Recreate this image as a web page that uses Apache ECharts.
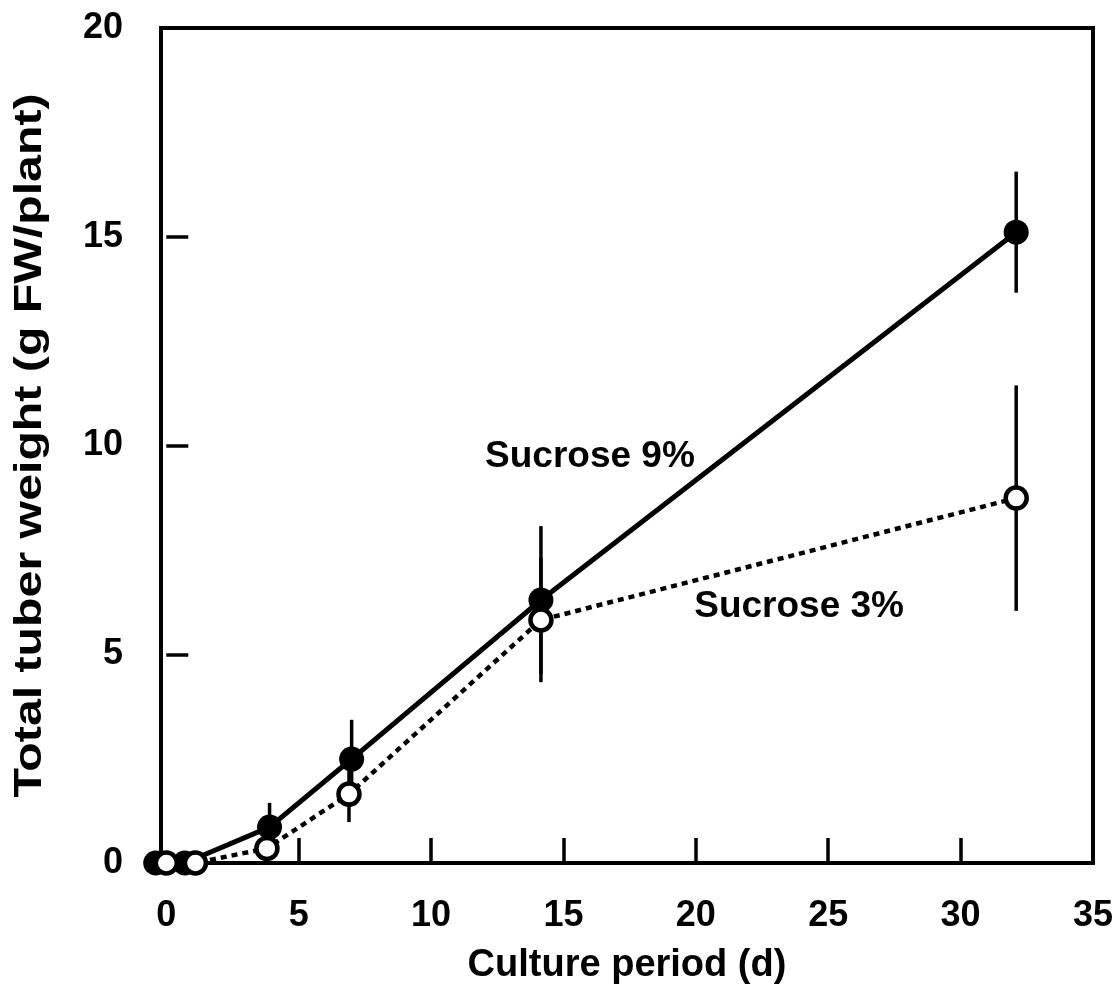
<!DOCTYPE html>
<html>
<head>
<meta charset="utf-8">
<title>Total tuber weight vs culture period</title>
<script src="https://cdn.jsdelivr.net/npm/echarts@6/dist/echarts.min.js"></script>
<style>
  html, body { margin: 0; padding: 0; background: #fff; }
  #chart { width: 1116px; height: 995px; }
</style>
</head>
<body>
<div id="chart"></div>
<script>
// Culture period (days) and total tuber weight (g FW/plant), mean and SD
const daysSuc9 = [-0.4, 0.7, 3.9, 7.0, 14.15, 32.1];
const weightSuc9 = [0, 0, 0.86, 2.49, 6.30, 15.11];
const errSuc9 = [0, 0, 0.58, 0.94, 1.77, 1.45];

const daysSuc3 = [0, 1.1, 3.8, 6.9, 14.15, 32.1];
const weightSuc3 = [0, 0, 0.35, 1.65, 5.82, 8.74];
const errSuc3 = [0, 0, 0.2, 0.67, 1.49, 2.7];

const xTickLabels = [0, 5, 10, 15, 20, 25, 30, 35];
const xTickMarks = [5, 10, 15, 20, 25, 30];
const yTickLabels = [0, 5, 10, 15, 20];
const yTickMarks = [5, 10, 15];

const seriesLabels = [
  { name: 'Sucrose 9%', at: [16.0, 9.72] },
  { name: 'Sucrose 3%', at: [23.9, 6.13] }
];

const yAxisTitle = 'Total tuber weight (g FW/plant)';
const xAxisTitle = 'Culture period (d)';

const FONT = '"Liberation Sans", Arial, Helvetica, sans-serif';

const pairs = (xs, ys) => xs.map((x, i) => [x, ys[i]]);
const errRows = (xs, ys, es) => xs.map((x, i) => [x, ys[i] - es[i], ys[i] + es[i]]);

function errorBar(params, api) {
  const lo = api.coord([api.value(0), api.value(1)]);
  const hi = api.coord([api.value(0), api.value(2)]);
  return {
    type: 'line',
    shape: { x1: lo[0], y1: lo[1], x2: hi[0], y2: hi[1] },
    style: { stroke: '#000', lineWidth: 3.5 }
  };
}

const chart = echarts.init(document.getElementById('chart'), null, { renderer: 'canvas' });

chart.setOption({
  animation: false,
  backgroundColor: '#fff',
  grid: {
    left: 161, right: 19, top: 28, bottom: 132,
    show: true, borderColor: '#000', borderWidth: 4, backgroundColor: 'transparent'
  },
  xAxis: {
    type: 'value',
    min: -0.2, max: 35,
    name: xAxisTitle,
    nameLocation: 'middle',
    nameGap: 84,
    nameTextStyle: { fontFamily: FONT, fontWeight: 'bold', fontSize: 38, color: '#000' },
    axisLine: { show: false },
    splitLine: { show: false },
    axisTick: { show: true, inside: true, length: 25, customValues: xTickMarks,
      lineStyle: { color: '#000', width: 3.5 } },
    axisLabel: { show: true, customValues: xTickLabels, margin: 35,
      fontFamily: FONT, fontWeight: 'bold', fontSize: 36, color: '#000' }
  },
  yAxis: {
    type: 'value',
    min: 0, max: 20,
    axisLine: { show: false },
    splitLine: { show: false },
    axisTick: { show: true, inside: true, length: 22, customValues: yTickMarks,
      lineStyle: { color: '#000', width: 3.5 } },
    axisLabel: { show: true, customValues: yTickLabels, margin: 38,
      fontFamily: FONT, fontWeight: 'bold', fontSize: 36, color: '#000' }
  },
  series: [
    {
      name: 'err9', type: 'custom', renderItem: errorBar,
      data: errRows(daysSuc9, weightSuc9, errSuc9), z: 1, clip: false
    },
    {
      name: 'err3', type: 'custom', renderItem: errorBar,
      data: errRows(daysSuc3, weightSuc3, errSuc3), z: 1, clip: false
    },
    {
      name: 'Sucrose 9%', type: 'line', z: 3, clip: false,
      data: pairs(daysSuc9, weightSuc9),
      symbol: 'circle', symbolSize: 25,
      lineStyle: { color: '#000', width: 5 },
      itemStyle: { color: '#000', borderColor: '#000', borderWidth: 0 }
    },
    {
      name: 'Sucrose 3%', type: 'line', z: 4, clip: false,
      data: pairs(daysSuc3, weightSuc3),
      symbol: 'circle', symbolSize: 21,
      lineStyle: { color: '#000', width: 4.5, type: [6, 5] },
      itemStyle: { color: '#fff', borderColor: '#000', borderWidth: 4.5 }
    }
  ]
});

// Series captions placed at data coordinates, plus the stretched y-axis title
const captions = seriesLabels.map(d => {
  const p = chart.convertToPixel({ gridIndex: 0 }, d.at);
  return {
    type: 'text', x: p[0], y: p[1], z: 10, silent: true,
    style: {
      text: d.name, align: 'center', verticalAlign: 'middle',
      font: 'bold 37px ' + FONT, fill: '#000'
    }
  };
});

const yTop = chart.convertToPixel({ gridIndex: 0 }, [0, 20])[1];
const yBottom = chart.convertToPixel({ gridIndex: 0 }, [0, 0])[1];

captions.push({
  type: 'text', x: 31, y: (yTop + yBottom) / 2, rotation: Math.PI / 2,
  scaleX: 1.27, scaleY: 1, z: 10, silent: true,
  style: {
    text: yAxisTitle, align: 'center', verticalAlign: 'middle',
    font: 'bold 38px ' + FONT, fill: '#000'
  }
});

chart.setOption({ graphic: captions });
</script>
</body>
</html>
